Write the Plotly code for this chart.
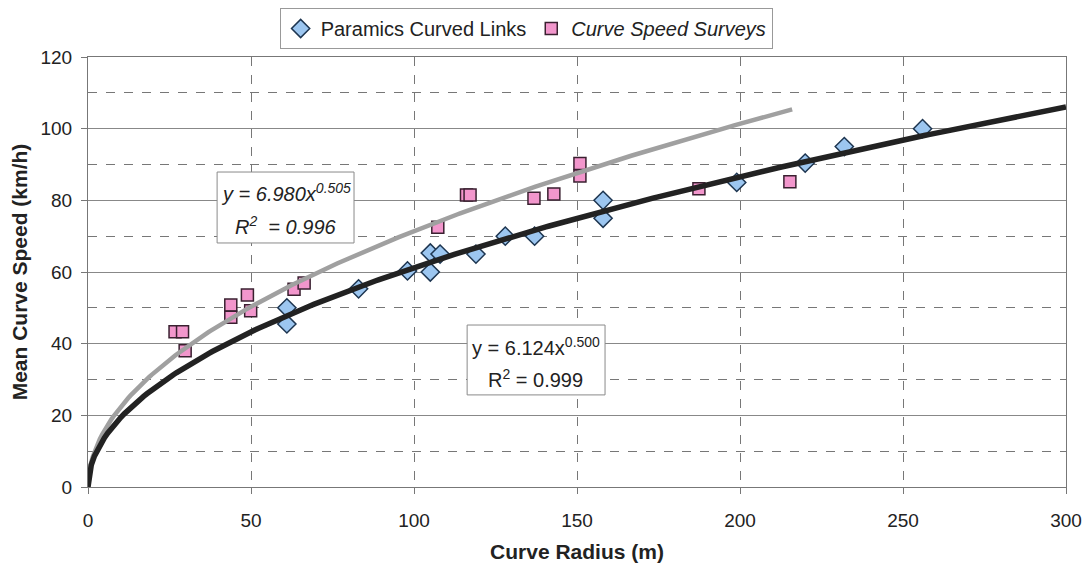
import numpy as np
import plotly.graph_objects as go

# Paramics Curved Links
paramics_radius = [61, 61, 83, 98, 105, 105, 108, 119, 128, 137, 158, 158, 199, 220, 232, 256]
paramics_speed = [50, 45.5, 55.3, 60.3, 65.3, 60, 65, 65, 70, 70, 80, 75, 85, 90.4, 95, 100]

# Curve Speed Surveys
survey_radius = [26.7, 29.0, 29.8, 43.8, 43.8, 48.9, 49.9, 63.2, 66.3, 107.3, 116.1, 117.2, 136.8, 142.9, 150.9, 150.9, 187.4, 215.3]
survey_speed = [43.3, 43.3, 38.0, 50.8, 47.4, 53.6, 49.2, 55.2, 56.9, 72.5, 81.5, 81.5, 80.6, 81.8, 90.3, 86.8, 83.2, 85.2]

# Power trendlines shown on the chart
survey_fit = (6.980, 0.505, 216)     # a, b, x max
paramics_fit = (6.124, 0.500, 300)

x_ticks = [0, 50, 100, 150, 200, 250, 300]
y_ticks = [0, 20, 40, 60, 80, 100, 120]

fig = go.Figure()

fig.add_trace(go.Scatter(
    x=paramics_radius, y=paramics_speed, mode="markers",
    name="Paramics Curved Links",
    marker=dict(symbol="diamond", size=14, color="#9cc6f0",
                line=dict(color="#1d3550", width=1.5)),
))
fig.add_trace(go.Scatter(
    x=survey_radius, y=survey_speed, mode="markers",
    name="<i>Curve Speed Surveys</i>",
    marker=dict(symbol="square", size=12, color="#f296cc",
                line=dict(color="#3a2030", width=1.5)),
))

a, b, xm = survey_fit
xs = np.linspace(0, xm, 300)
fig.add_trace(go.Scatter(x=xs, y=a * xs ** b, mode="lines", showlegend=False,
                         line=dict(color="#a0a0a0", width=4.5), hoverinfo="skip"))
a, b, xm = paramics_fit
xs = np.linspace(0, xm, 300)
fig.add_trace(go.Scatter(x=xs, y=a * xs ** b, mode="lines", showlegend=False,
                         line=dict(color="#222222", width=5.5), hoverinfo="skip"))

font_family = "Liberation Sans, Arial, sans-serif"
ann_font = dict(size=20, color="#222", family=font_family)

# equation boxes
fig.add_shape(type="rect", xref="x", yref="y", x0=39.6, x1=81.6, y0=68.1, y1=87.9,
              line=dict(color="#8a8a8a", width=1), fillcolor="white", layer="above")
fig.add_shape(type="rect", xref="x", yref="y", x0=116.3, x1=158.6, y0=25.7, y1=45.2,
              line=dict(color="#8a8a8a", width=1), fillcolor="white", layer="above")

fig.add_annotation(x=60.6, y=82.3, xref="x", yref="y", showarrow=False, font=ann_font,
                   text="<i>y = 6.980x<sup>0.505</sup></i>")
fig.add_annotation(x=60.6, y=73.0, xref="x", yref="y", showarrow=False, font=ann_font,
                   text="<i>R<sup>2</sup>  = 0.996</i>")
fig.add_annotation(x=137.4, y=39.3, xref="x", yref="y", showarrow=False, font=ann_font,
                   text="y = 6.124x<sup>0.500</sup>")
fig.add_annotation(x=137.4, y=30.4, xref="x", yref="y", showarrow=False, font=ann_font,
                   text="R<sup>2</sup> = 0.999")

fig.update_layout(
    width=1082, height=555,
    margin=dict(l=80, r=24, t=49, b=76, autoexpand=False),
    paper_bgcolor="white", plot_bgcolor="white",
    font=dict(family=font_family, color="#222"),
    legend=dict(orientation="h", x=0.448, xanchor="center", y=1.114, yanchor="top",
                bordercolor="#999", borderwidth=1, bgcolor="white",
                font=dict(size=20, color="#222"), itemwidth=30),
    xaxis=dict(range=[0, 300], tickvals=x_ticks, showgrid=True, gridcolor="#777",
               griddash="dash", gridwidth=1, showline=True, linecolor="#777", mirror=True,
               ticks="outside", ticklen=6, tickcolor="#777", zeroline=False, automargin=False,
               ticklabelstandoff=10,
               tickfont=dict(size=19, color="#222"),
               title=dict(text="<b>Curve Radius (m)</b>", font=dict(size=21, color="#222"), standoff=14)),
    yaxis=dict(range=[0, 120], tickvals=y_ticks, showgrid=True, gridcolor="#888", gridwidth=1,
               showline=True, linecolor="#777", mirror=True, ticks="outside", ticklen=6,
               tickcolor="#777", zeroline=False, automargin=False, ticklabelstandoff=5,
               tickfont=dict(size=19, color="#222"),
               minor=dict(dtick=10, showgrid=True, gridcolor="#777", griddash="dash", ticks=""),
               title=dict(text="<b>Mean Curve Speed (km/h)</b>", font=dict(size=21, color="#222"), standoff=10)),
)

fig.write_html("out.html")
